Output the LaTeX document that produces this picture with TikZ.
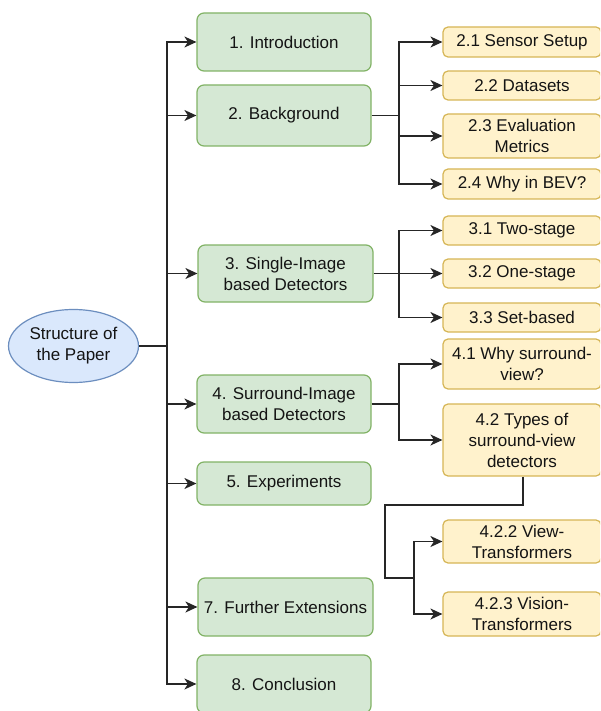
\documentclass[tikz,border=0pt]{standalone}
\usepackage{fontspec}
\setmainfont{Liberation Sans}
\usetikzlibrary{arrows.meta,calc,shapes.geometric}
\definecolor{gfill}{HTML}{D5E8D4}
\definecolor{gline}{HTML}{82B366}
\definecolor{yfill}{HTML}{FFF2CC}
\definecolor{yline}{HTML}{D6B656}
\definecolor{bfill}{HTML}{DAE8FC}
\definecolor{bline}{HTML}{6C8EBF}
\definecolor{txt}{HTML}{141414}
\begin{document}
\begin{tikzpicture}[x=1pt,y=-1pt,
  every node/.style={font=\fontsize{17}{21}\selectfont, text=txt, align=center, inner sep=0pt},
  gbox/.style={rectangle, rounded corners=7pt, draw=gline, fill=gfill, line width=1.2pt, minimum width=174pt},
  ybox/.style={rectangle, rounded corners=5pt, draw=yline, fill=yfill, line width=1.2pt, minimum width=158pt},
  root/.style={ellipse, draw=bline, fill=bfill, line width=1.2pt, minimum width=130pt, minimum height=73pt},
  conn/.style={draw=black!85, line width=1.4pt},
  arr/.style={conn, -{Stealth[length=12pt,width=11pt,inset=3.5pt]}}
]
\clip (0,0) rectangle (600,711);
\fill[white] (0,0) rectangle (600,711);

% root
\node[root] (root) at (73.5,346) {Structure of\\the Paper};

% main sections
\node[gbox, minimum height=58pt] (intro) at (284,42) {1. Introduction};
\node[gbox, minimum height=61pt] (bg) at (284,115.5) {2. Background};
\node[gbox, minimum width=175pt, minimum height=57pt] (single) at (285.5,273.5) {3. Single-Image\\based Detectors};
\node[gbox, minimum height=58pt] (surround) at (284,404) {4. Surround-Image\\based Detectors};
\node[gbox, minimum height=43pt] (exp) at (284,483.5) {5. Experiments};
\node[gbox, minimum width=175pt, minimum height=58pt] (further) at (285.5,607) {7. Further Extensions};
\node[gbox, minimum height=58pt] (concl) at (284,684) {8. Conclusion};

% subsections
\node[ybox, minimum height=30pt] (s21) at (522,42) {2.1 Sensor Setup};
\node[ybox, minimum height=29pt] (s22) at (522,85.5) {2.2 Datasets};
\node[ybox, minimum height=44pt] (s23) at (522,136) {2.3 Evaluation\\Metrics};
\node[ybox, minimum height=30pt] (s24) at (522,184) {2.4 Why in BEV?};
\node[ybox, minimum height=29pt] (s31) at (522,230.5) {3.1 Two-stage};
\node[ybox, minimum height=29pt] (s32) at (522,273.5) {3.2 One-stage};
\node[ybox, minimum height=29pt] (s33) at (522,317.5) {3.3 Set-based};
\node[ybox, minimum height=50pt] (s41) at (522,364) {4.1 Why surround-\\view?};
\node[ybox, minimum height=72pt] (s42) at (522,440) {4.2 Types of\\surround-view\\detectors};
\node[ybox, minimum height=43pt] (s422) at (522,541.5) {4.2.2 View-\\Transformers};
\node[ybox, minimum height=44pt] (s423) at (522,614) {4.2.3 Vision-\\Transformers};

% trunk
\coordinate (t) at (167,346);
\draw[conn] (root.east) -- (t);
\foreach \n in {intro,bg,single,surround,exp,further,concl}
  \draw[arr] (t) |- (\n.west);

% background branch
\coordinate (j2) at (399,115.5);
\draw[conn] (bg.east) -- (j2);
\foreach \n in {s21,s22,s23,s24}
  \draw[arr] (j2) |- (\n.west);

% single-image branch
\coordinate (j3) at (399,273.5);
\draw[conn] (single.east) -- (j3);
\foreach \n in {s31,s32,s33}
  \draw[arr] (j3) |- (\n.west);

% surround branch
\coordinate (j4) at (399,404);
\draw[conn] (surround.east) -- (j4);
\foreach \n in {s41,s42}
  \draw[arr] (j4) |- (\n.west);

% 4.2 branch
\coordinate (k1) at (523,505);
\coordinate (k2) at (385,505);
\coordinate (k3) at (385,578);
\coordinate (j42) at (414,578);
\draw[conn] (s42.south -| k1) -- (k1) -- (k2) -- (k3) -- (j42);
\foreach \n in {s422,s423}
  \draw[arr] (j42) |- (\n.west);
\end{tikzpicture}
\end{document}
